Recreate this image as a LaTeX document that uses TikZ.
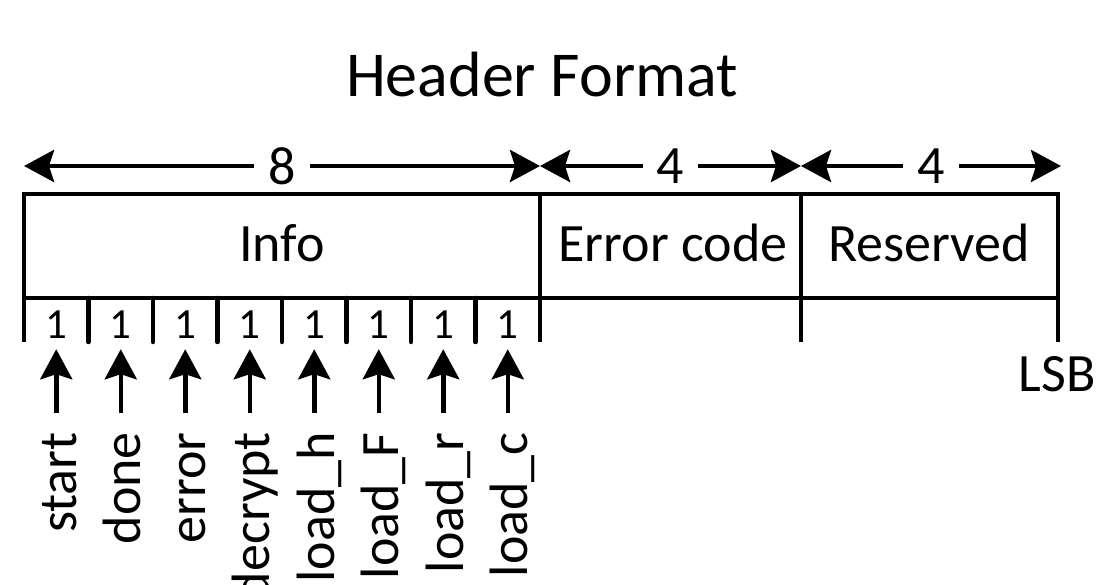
\documentclass[tikz,border=0pt]{standalone}
\usepackage{fontspec}
\setmainfont{Carlito}
\usetikzlibrary{arrows.meta, positioning}

\begin{document}
\begin{tikzpicture}[x=1pt, y=-1pt, line width=4.5pt, >={Stealth[length=30pt, width=32pt, inset=5pt]},
    big/.style={font=\fontsize{54}{60}\selectfont},
    bitnum/.style={font=\fontsize{43}{46}\selectfont, inner sep=0pt, text depth=0pt, anchor=base},
    signal/.style={big, rotate=90, anchor=east, inner sep=0pt, text height=46pt, text depth=6pt},
    dimline/.style={<->}]
    \fill[white] (0,0) rectangle (1104,585);
    \useasboundingbox (0,0) rectangle (1104,585);

    % Title
    \node[font=\fontsize{64}{70}\selectfont, anchor=base] (title) at (542,97) {Header Format};

    % Widths
    \coordinate (d0) at (24,166);
    \coordinate (d1) at (540,166);
    \coordinate (d2) at (801,166);
    \coordinate (d3) at (1061,166);
    \draw[dimline] (d0) -- node[big, fill=white, inner xsep=14pt, inner ysep=0pt] (w8) {8} (d1);
    \draw[dimline] (d1) -- node[big, fill=white, inner xsep=14pt, inner ysep=0pt] (w4a) {4} (d2);
    \draw[dimline] (d2) -- node[big, fill=white, inner xsep=14pt, inner ysep=0pt] (w4b) {4} (d3);

    % Fields
    \draw (24,342) -- (24,194) -- (1058,194) -- (1058,342);
    \draw (24,298) -- (1058,298);
    \draw (540,194) -- (540,342);
    \draw (801,194) -- (801,342);
    \node[big, anchor=base] (info) at (282,262) {Info};
    \node[big, anchor=base] (errcode) at (673,262) {Error code};
    \node[big, anchor=base] (reserved) at (929,262) {Reserved};
    \node[big, anchor=base east, inner sep=0pt] (lsb) at (1098,392) {LSB};

    % Bits of the info field
    \foreach \i in {1,...,7}
        \draw[line cap=round] (24+64.5*\i,298) -- (24+64.5*\i,342);
    \foreach \name [count=\i] in {start,done,error,decrypt,load\_h,load\_F,load\_r,load\_c} {
        \node[bitnum] (bit\i) at (24+64.5*\i-32.25,339) {1};
        \node[signal] (sig\i) at (24+64.5*\i-32.25,430) {\name};
        \draw[->, shorten <=17pt, shorten >=8pt] (sig\i.east) -- (bit\i.south);
    }
\end{tikzpicture}
\end{document}
